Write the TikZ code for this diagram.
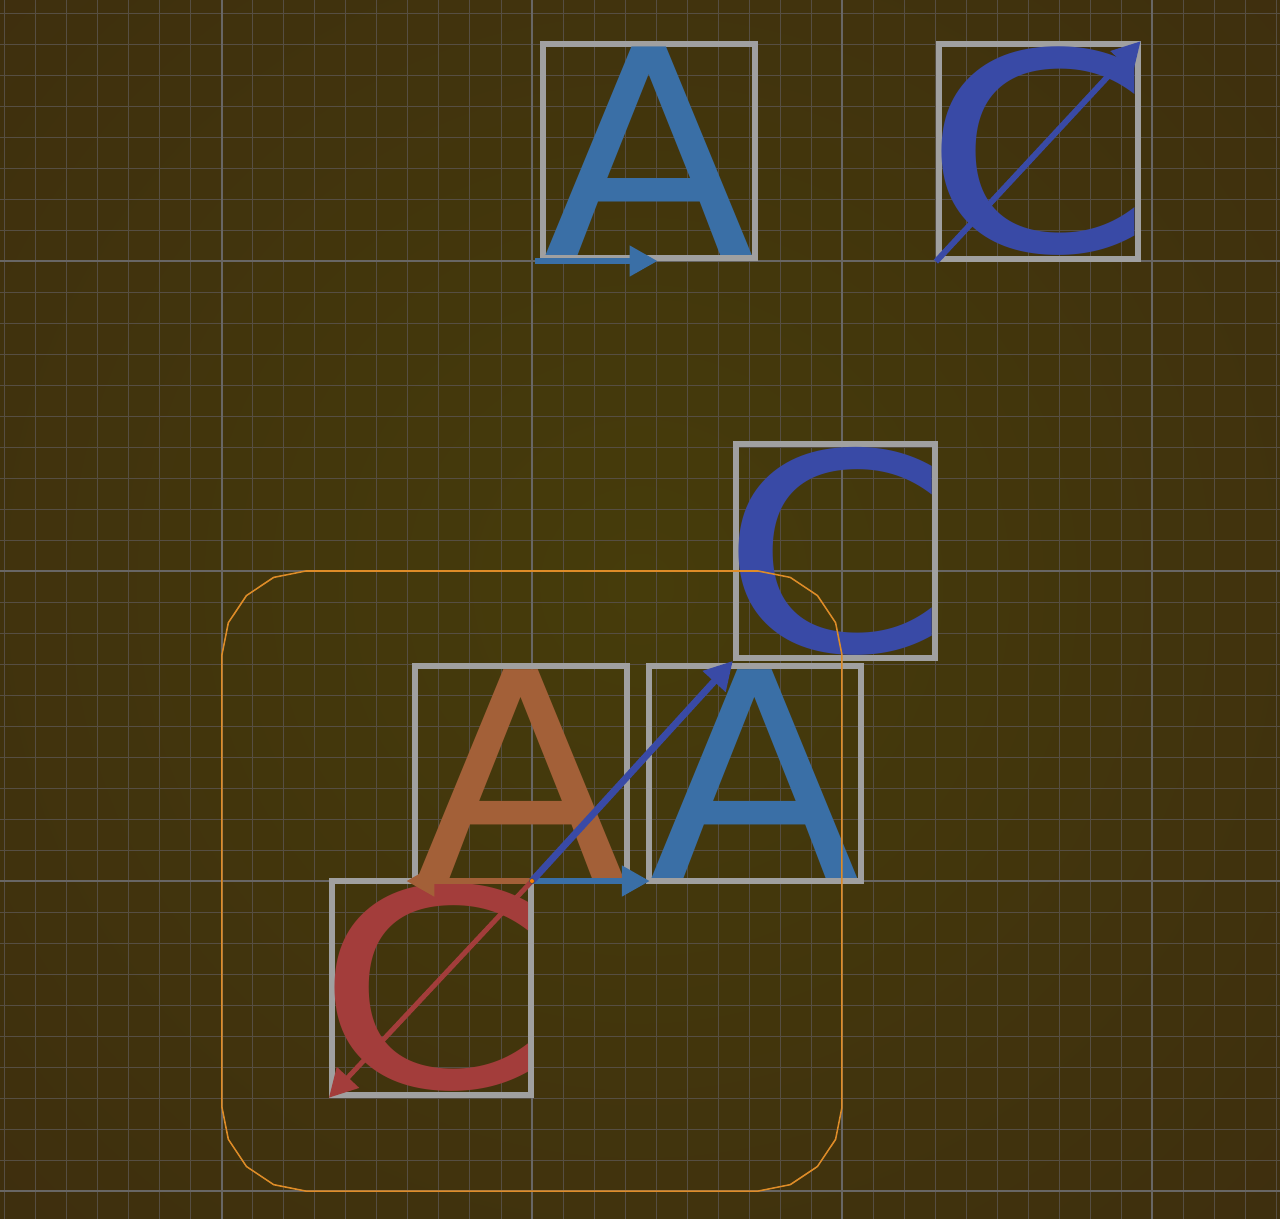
\documentclass[tikz,border=0pt]{standalone}
\usepackage{fontspec}
\usepackage{graphicx}
\usetikzlibrary{arrows.meta}
\newfontfamily\glyphfont{DejaVu Sans}

\definecolor{bgin}{RGB}{70,60,11}
\definecolor{bgout}{RGB}{56,36,16}
\definecolor{gridminor}{RGB}{86,78,66}
\definecolor{gridmajor}{RGB}{104,102,100}
\definecolor{boxgray}{RGB}{160,160,160}
\definecolor{ablue}{RGB}{58,111,166}
\definecolor{cblue}{RGB}{57,74,166}
\definecolor{aorange}{RGB}{163,96,56}
\definecolor{cred}{RGB}{163,61,59}
\definecolor{frameorange}{RGB}{222,140,40}

% glyph stretched to its ink box
\newcommand\inkglyph[3]{\resizebox*{#1}{#2}{\glyphfont\kern-\XeTeXglyphbounds1 \XeTeXcharglyph`#3\relax #3\kern-\XeTeXglyphbounds3 \XeTeXcharglyph`#3\relax}}

\tikzset{
  glyphbox/.style={draw=boxgray, line width=0.19cm, inner sep=0.095cm, anchor=south west},
  vec/.style={line width=0.2cm, -{Triangle[length=0.9cm,width=0.95cm]}},
  minorline/.style={gridminor, line width=0.03cm},
  majorline/.style={gridmajor, line width=0.05cm},
}

\begin{document}
\begin{tikzpicture}
  \useasboundingbox (-17.16,-10.90) rectangle (24.13,28.42);
  \begin{scope}
    \clip (-17.16,-10.90) rectangle (24.13,28.42);
    \shade[inner color=bgin, outer color=bgout] (3.5,9.5) circle (52);
  \end{scope}
  % grid
  \foreach \x in {-17,...,24}
    \draw[minorline] (\x,-10.90) -- (\x,28.42);
  \foreach \y in {-10,...,28}
    \draw[minorline] (-17.16,\y) -- (24.13,\y);
  \foreach \x in {-10,0,10,20}
    \draw[majorline] (\x,-10.90) -- (\x,28.42);
  \foreach \y in {-10,0,10,20}
    \draw[majorline] (-17.16,\y) -- (24.13,\y);

  % single glyphs
  \node[glyphbox, text=ablue] (topA) at (0.25,20) {\inkglyph{6.65cm}{6.72cm}{A}};
  \node[glyphbox, text=cblue] (topC) at (13.03,19.98) {\inkglyph{6.22cm}{6.73cm}{C}};
  \coordinate (atail) at (0.1,20);
  \coordinate (ahead) at (4.05,20);
  \draw[vec, ablue] (atail) -- (ahead);
  \draw[vec, cblue, line width=0.19cm] (topC.south west) -- (topC.north east);

  % combined around the origin
  \coordinate (o) at (0,0);
  \coordinate (apos) at (3.8,0);
  \coordinate (aneg) at (-4.05,0);
  \node[glyphbox, text=aorange] (leftA) at (-3.87,-0.1) {\inkglyph{6.64cm}{6.73cm}{A}};
  \node[glyphbox, text=ablue] (rightA) at (3.68,-0.1) {\inkglyph{6.63cm}{6.73cm}{A}};
  \node[glyphbox, text=cblue] (upC) at (6.48,7.1) {\inkglyph{6.23cm}{6.71cm}{C}};
  \node[glyphbox, text=cred] (downC) at (-6.55,-6.99) {\inkglyph{6.24cm}{6.71cm}{C}};
  \draw[frameorange, line width=0.05cm] (-7.3,10) -- (7.3,10) -- (8.333,9.794) -- (9.209,9.209) -- (9.794,8.333) -- (10,7.3)
    -- (10,-7.3) -- (9.794,-8.333) -- (9.209,-9.209) -- (8.333,-9.794) -- (7.3,-10)
    -- (-7.3,-10) -- (-8.333,-9.794) -- (-9.209,-9.209) -- (-9.794,-8.333) -- (-10,-7.3)
    -- (-10,7.3) -- (-9.794,8.333) -- (-9.209,9.209) -- (-8.333,9.794) -- cycle;

  \draw[vec, ablue] (o) -- (apos);
  \draw[vec, aorange] (o) -- (aneg);
  \draw[vec, cblue, line width=0.22cm] (o) -- (upC.south west);
  \draw[vec, cred, line width=0.16cm] (o) -- (downC.south west);
  \fill[orange, draw=black!70, line width=0.02cm] (o) circle (0.08);
\end{tikzpicture}
\end{document}
